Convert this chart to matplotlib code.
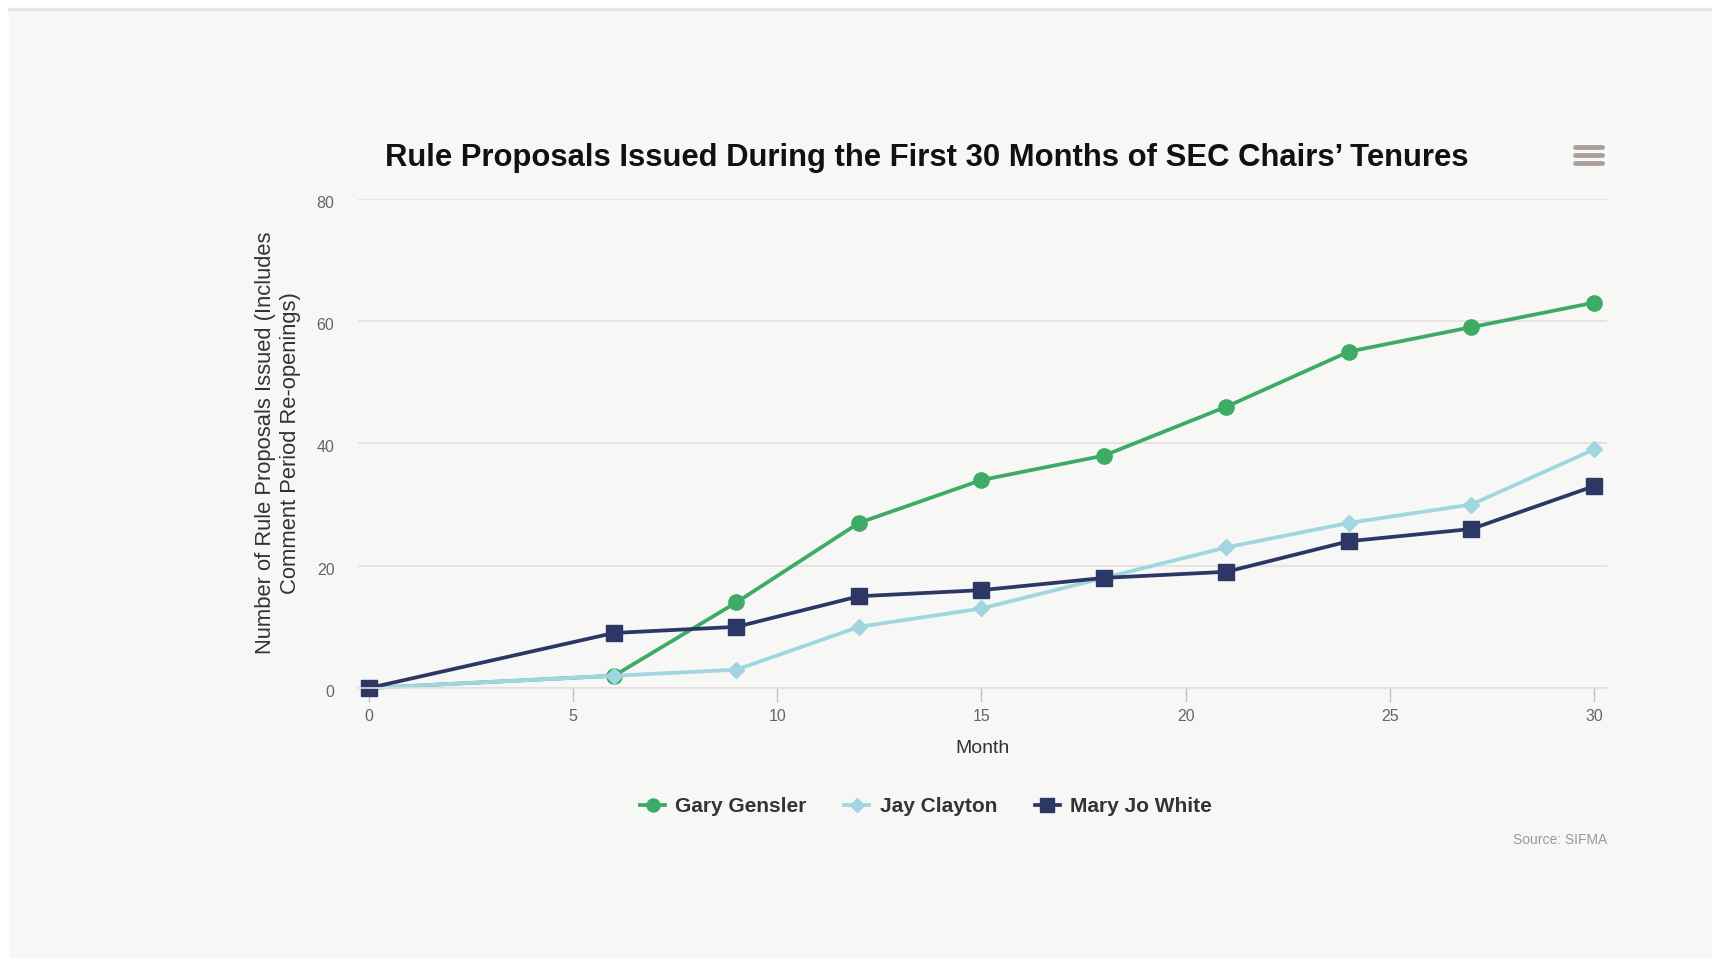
import matplotlib.pyplot as plt
from matplotlib.patches import Rectangle
from matplotlib.lines import Line2D
from matplotlib.transforms import ScaledTranslation

plt.rcParams['font.family'] = ['Liberation Sans', 'DejaVu Sans']

months = [0, 6, 9, 12, 15, 18, 21, 24, 27, 30]
gensler = [0, 2, 14, 27, 34, 38, 46, 55, 59, 63]
clayton = [0, 2, 3, 10, 13, 18, 23, 27, 30, 39]
white = [0, 9, 10, 15, 16, 18, 19, 24, 26, 33]

series = [
    ('Gary Gensler', gensler, '#3dab66', 'o', 11),
    ('Jay Clayton', clayton, '#9fd6df', 'D', 8.5),
    ('Mary Jo White', white, '#2c3766', 's', 11.5),
]

W, H = 1712, 961
fig = plt.figure(figsize=(W / 100, H / 100), dpi=100, facecolor='white')

# page background and top border
fig.patches.append(Rectangle((9 / W, 1 - 958 / H), (W - 9) / W, (958 - 10) / H,
                             transform=fig.transFigure, facecolor='#f7f7f5',
                             edgecolor='none', zorder=-10))
fig.lines.append(Line2D([9 / W, 1], [1 - 9 / H, 1 - 9 / H], transform=fig.transFigure,
                        color='#e6e6e6', lw=2.5, zorder=-5))

ax = fig.add_axes([358 / W, 1 - 688 / H, (1607 - 358) / W, (688 - 198.7) / H])
ax.set_facecolor('#f7f7f5')

for name, vals, color, marker, ms in series:
    ax.plot(months, vals, color=color, lw=2.7, marker=marker, markersize=ms,
            label=name, clip_on=False)

ax.set_xlim(-0.27, 30.32)
ax.set_ylim(0, 80)
ax.set_xticks([0, 5, 10, 15, 20, 25, 30])
ax.set_yticks([0, 20, 40, 60, 80])
ax.grid(axis='y', color='#e5dfdf', lw=1.2)
ax.set_axisbelow(True)
for side in ['top', 'right', 'left']:
    ax.spines[side].set_visible(False)
ax.spines['bottom'].set_color('#e5dfdf')
ax.spines['bottom'].set_linewidth(1.2)
ax.tick_params(axis='x', length=10, width=1, color='#c8c0c0', labelsize=11.5,
               labelcolor='#666666', pad=5)
ax.tick_params(axis='y', length=0, labelsize=11.5, labelcolor='#666666', pad=17)

# y labels sit a little below their grid lines
shift = ScaledTranslation(0, -3 / 100, fig.dpi_scale_trans)
for lbl in ax.get_yticklabels():
    lbl.set_transform(lbl.get_transform() + shift)

ax.set_xlabel('Month', fontsize=14, color='#333333', labelpad=11.5)
fig.text(278 / W, 1 - 443 / H,
         'Number of Rule Proposals Issued (Includes\nComment Period Re-openings)',
         rotation=90, ha='center', va='center', fontsize=15.8, color='#333333',
         linespacing=1.2)

fig.text(927 / W, 1 - 158 / H,
         'Rule Proposals Issued During the First 30 Months of SEC Chairs\u2019 Tenures',
         ha='center', va='center', fontsize=22.3, fontweight='bold', color='#111111')

# menu icon
for dy in (-8, 0, 8):
    fig.lines.append(Line2D([1575 / W, 1602 / W], [1 - (155 + dy) / H] * 2,
                            transform=fig.transFigure, color='#aca0a0', lw=3.5,
                            solid_capstyle='round'))

fig.legend(loc='center', bbox_to_anchor=(926 / W, 1 - 807 / H), ncol=3,
           frameon=False, prop={'size': 15, 'weight': 'bold'}, labelcolor='#333333',
           handlelength=1.2, columnspacing=1.8, handletextpad=0.5, markerscale=0.85)

fig.text(1607 / W, 1 - 840 / H, 'Source: SIFMA', ha='right', va='center',
         fontsize=10, color='#999999')

fig.savefig('out.png', dpi=100, facecolor=fig.get_facecolor())
